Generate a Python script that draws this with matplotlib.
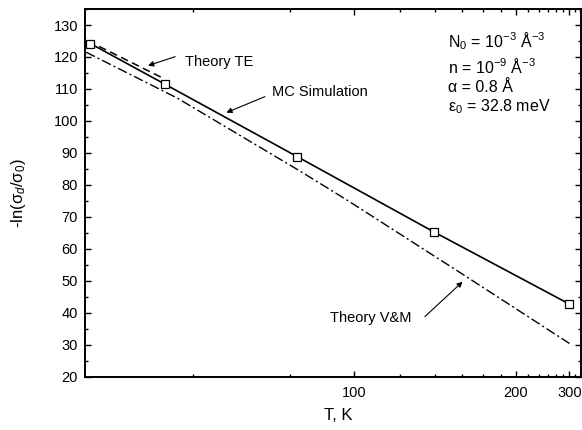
import numpy as np
import matplotlib
matplotlib.use("Agg")
import matplotlib.pyplot as plt
from matplotlib.ticker import FixedLocator, MultipleLocator, NullFormatter, FixedFormatter

plt.rcParams['font.family'] = ['Liberation Sans', 'DejaVu Sans']
plt.rcParams['mathtext.fontset'] = 'custom'
plt.rcParams['mathtext.rm'] = 'Liberation Sans'
plt.rcParams['mathtext.it'] = 'Liberation Sans:italic'
plt.rcParams['mathtext.bf'] = 'Liberation Sans:bold'

# ── Data ────────────────────────────────────────────────────────────────────

T_mc = [55, 63, 85, 133, 300]
y_mc = [124.2, 111.5, 88.8, 65.2, 42.7]

T_te = [54.8, 62.6]
y_te = [125.0, 113.6]

T_vm = [54.6, 64.6, 85.6, 97.7, 150, 300]
y_vm = [121.5, 107.1, 84.3, 75.3, 52.2, 30.4]

x_major = [100, 200, 300]
x_major_labels = ['100', '200', '300']
x_minor = [66.7, 83.3, 116.7, 133.3, 150, 166.7, 183.3,
           216.7, 233.3, 250, 266.7, 283.3, 316.7, 333.3]

# ── Figure ──────────────────────────────────────────────────────────────────

fig = plt.figure(figsize=(5.82, 4.30), dpi=100)
ax = fig.add_axes([0.146, 0.124, 0.853, 0.855])

# reciprocal temperature axis
ax.set_xscale('function', functions=(lambda t: -1.0 / t, lambda u: -1.0 / u))

ax.plot(T_mc, y_mc, color='black', lw=1.2, marker='s', ms=5.5,
        mfc='white', mec='black', mew=0.9, zorder=3)
ax.plot(T_te, y_te, color='black', lw=1.1, linestyle=(0, (5, 3)))
ax.plot(T_vm, y_vm, color='black', lw=1.0, linestyle=(0, (7, 2.2, 1.5, 2.2)))

ax.set_xlim(54.5, 337.7)
ax.set_ylim(20, 135)

ax.xaxis.set_major_locator(FixedLocator(x_major))
ax.xaxis.set_major_formatter(FixedFormatter(x_major_labels))
ax.xaxis.set_minor_locator(FixedLocator(x_minor))
ax.xaxis.set_minor_formatter(NullFormatter())
ax.yaxis.set_major_locator(MultipleLocator(10))
ax.yaxis.set_minor_locator(MultipleLocator(5))
ax.set_yticks(np.arange(20, 131, 10))

ax.tick_params(which='both', direction='in', top=True, right=True,
               labelsize=10.5, width=1.0)
ax.tick_params(which='major', length=4.5)
ax.tick_params(which='minor', length=2.5)
ax.tick_params(axis='x', which='major', pad=7)
ax.tick_params(axis='y', which='major', pad=5)
for sp in ax.spines.values():
    sp.set_linewidth(1.4)

ax.set_xlabel('T, K', fontsize=12)
ax.xaxis.set_label_coords(0.51, -0.085)
ax.set_ylabel(r'-ln(σ$_d$/σ$_0$)', fontsize=12)
ax.yaxis.set_label_coords(-0.114, 0.5)

# ── Annotations ─────────────────────────────────────────────────────────────

arrow = dict(arrowstyle='-|>', color='black', lw=0.8, mutation_scale=8,
             shrinkA=0, shrinkB=0)
ax.annotate('', xy=(61.0, 117.3), xytext=(64.3, 120.1), arrowprops=arrow)
ax.text(65.6, 118.4, 'Theory TE', fontsize=10.5, va='center', ha='left')

ax.annotate('', xy=(71.6, 102.6), xytext=(78.3, 107.6), arrowprops=arrow)
ax.text(79.6, 109.0, 'MC Simulation', fontsize=10.5, va='center', ha='left')

ax.annotate('', xy=(150.5, 49.7), xytext=(128.0, 38.8), arrowprops=arrow)
ax.text(121.6, 38.3, 'Theory V&M', fontsize=10.5, va='center', ha='right')

px = 0.732
ax.text(px, 0.913, r'N$_0$ = 10$^{-3}$ Å$^{-3}$', transform=ax.transAxes,
        fontsize=11.5, va='center', ha='left')
ax.text(px, 0.845, r'n = 10$^{-9}$ Å$^{-3}$', transform=ax.transAxes,
        fontsize=11.5, va='center', ha='left')
ax.text(px, 0.787, r'α = 0.8 Å', transform=ax.transAxes,
        fontsize=11.5, va='center', ha='left')
ax.text(px, 0.734, r'ε$_0$ = 32.8 meV', transform=ax.transAxes,
        fontsize=11.5, va='center', ha='left')

fig.savefig('out.png', dpi=100)
